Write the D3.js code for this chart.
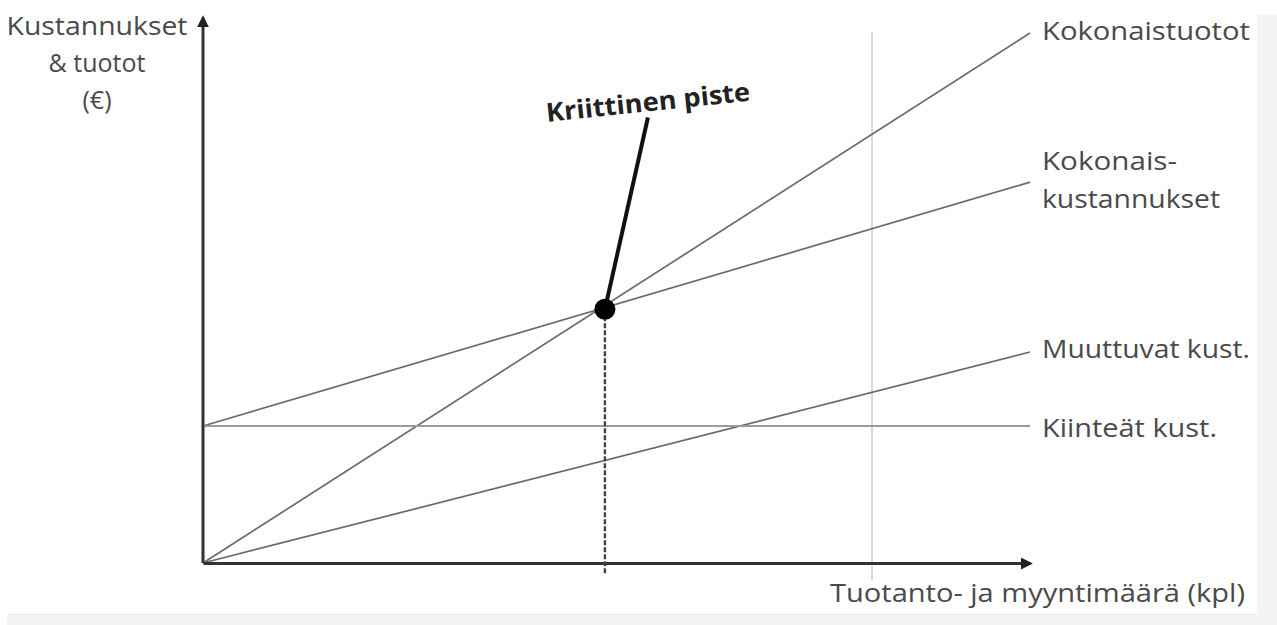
<!DOCTYPE html>
<html>
<head>
<meta charset="utf-8">
<script src="https://cdn.jsdelivr.net/npm/d3@7"></script>
<style>
  body { margin: 0; background: #fff; }
  svg { display: block; }
  text { font-family: "Open Sans", "DejaVu Sans", sans-serif; }
</style>
</head>
<body>
<div class="chart"></div>
<script>
// quantities (kpl) and money (€)
var quantity = [0, 1000];
var revenue = [0, 967];
var totalCost = [250, 695];
var variableCost = [0, 385];
var fixedCost = [250, 250];
var breakEvenQ = 486;
var breakEvenValue = 463;
var capacityQ = 809;

var lineLabels = [
  { lines: ["Kokonaistuotot"], at: 967, shift: 7, width: [208] },
  { lines: ["Kokonais-", "kustannukset"], at: 695, shift: -12, width: [135, 178] },
  { lines: ["Muuttuvat kust."], at: 385, shift: 6, width: [208] },
  { lines: ["Kiinteät kust."], at: 250, shift: 11, width: [175] }
];
var yTitle = ["Kustannukset", "& tuotot", "(€)"];
var xTitle = "Tuotanto- ja myyntimäärä (kpl)";
var callout = "Kriittinen piste";

var W = 1277, H = 625;

var svg = d3
  .select(".chart")
  .append("svg")
  .attr("width", W)
  .attr("height", H);

// grey page edges of the scanned figure
svg.append("rect").attr("x", 1257).attr("y", 15).attr("width", 20).attr("height", 610).attr("fill", "#f4f4f4");
svg.append("rect").attr("x", 7).attr("y", 614).attr("width", 1270).attr("height", 11).attr("fill", "#f3f3f3");
svg.append("line").attr("x1", 7).attr("x2", 1257).attr("y1", 614.5).attr("y2", 614.5).attr("stroke", "#ebebeb");

var x = d3.scaleLinear().domain([0, 1000]).range([203, 1030]);
var y = d3.scaleLinear().domain([0, 1000]).range([563, 15]);

var defs = svg.append("defs");
defs
  .append("marker")
  .attr("id", "arrow")
  .attr("viewBox", "0 0 10 10")
  .attr("refX", 8)
  .attr("refY", 5)
  .attr("markerWidth", 4)
  .attr("markerHeight", 4)
  .attr("orient", "auto")
  .append("path")
  .attr("d", "M0,0L10,5L0,10z")
  .attr("fill", "#222");

// capacity limit
svg
  .append("line")
  .attr("x1", x(capacityQ))
  .attr("x2", x(capacityQ))
  .attr("y1", y(970))
  .attr("y2", y(-31))
  .attr("stroke", "#d9d9d9")
  .attr("stroke-width", 2);

var series = [revenue, totalCost, variableCost, fixedCost];
var line = d3
  .line()
  .x(function (d) { return x(d[0]); })
  .y(function (d) { return y(d[1]); });

svg
  .selectAll("path.cost")
  .data(series)
  .enter()
  .append("path")
  .attr("class", "cost")
  .attr("d", function (s) {
    return line(quantity.map(function (q, i) { return [q, s[i]]; }));
  })
  .attr("fill", "none")
  .attr("stroke", function (s) { return s === fixedCost ? "#9a9a9a" : "#6a6a6a"; })
  .attr("stroke-width", function (s) { return s === fixedCost ? 2 : 1.7; });

// axes
var xAxis = svg
  .append("g")
  .attr("transform", "translate(0," + y(0) + ")")
  .call(d3.axisBottom(x).tickValues([]).tickSizeOuter(0));
xAxis.select(".domain").attr("stroke", "#333").attr("stroke-width", 3).attr("marker-end", "url(#arrow)");

var yAxis = svg
  .append("g")
  .attr("transform", "translate(" + x(0) + ",0)")
  .call(d3.axisLeft(y).tickValues([]).tickSizeOuter(0));
yAxis.select(".domain")
  .attr("d", "M0," + y(0) + "V" + y(995))
  .attr("stroke", "#333").attr("stroke-width", 3).attr("marker-end", "url(#arrow)");

// break-even drop line
svg
  .append("line")
  .attr("x1", x(breakEvenQ))
  .attr("x2", x(breakEvenQ))
  .attr("y1", y(breakEvenValue))
  .attr("y2", y(-22))
  .attr("stroke", "#444")
  .attr("stroke-width", 2.4)
  .attr("stroke-dasharray", "5,2");

// callout
svg
  .append("line")
  .attr("x1", x(breakEvenQ))
  .attr("y1", y(breakEvenValue))
  .attr("x2", x(538))
  .attr("y2", y(813))
  .attr("stroke", "#111")
  .attr("stroke-width", 4);

svg
  .append("circle")
  .attr("cx", x(breakEvenQ))
  .attr("cy", y(breakEvenValue))
  .attr("r", 10.5)
  .attr("fill", "#000");

svg
  .append("text")
  .attr("transform", "translate(547,122) rotate(-6)")
  .attr("font-size", 26)
  .attr("font-weight", "bold")
  .attr("fill", "#222")
  .attr("textLength", 205)
  .attr("lengthAdjust", "spacingAndGlyphs")
  .text(callout);

// line labels
var dy = [0, 38];
lineLabels.forEach(function (l) {
  var t = svg
    .append("text")
    .attr("font-size", 25)
    .attr("fill", "#4a4a4a");
  l.lines.forEach(function (s, i) {
    t.append("tspan")
      .attr("x", 1042)
      .attr("y", y(l.at) + l.shift + dy[i])
      .attr("textLength", l.width[i])
      .attr("lengthAdjust", "spacingAndGlyphs")
      .text(s);
  });
});

// axis titles
var yt = svg
  .append("text")
  .attr("font-size", 25)
  .attr("fill", "#4a4a4a")
  .attr("text-anchor", "middle");
yTitle.forEach(function (s, i) {
  yt.append("tspan")
    .attr("x", 97)
    .attr("y", 35 + i * 37)
    .attr("textLength", i === 0 ? 181 : null)
    .attr("lengthAdjust", "spacingAndGlyphs")
    .text(s);
});

svg
  .append("text")
  .attr("x", 830)
  .attr("y", 602)
  .attr("font-size", 25)
  .attr("fill", "#4a4a4a")
  .attr("textLength", 415)
  .attr("lengthAdjust", "spacingAndGlyphs")
  .text(xTitle);
</script>
</body>
</html>
